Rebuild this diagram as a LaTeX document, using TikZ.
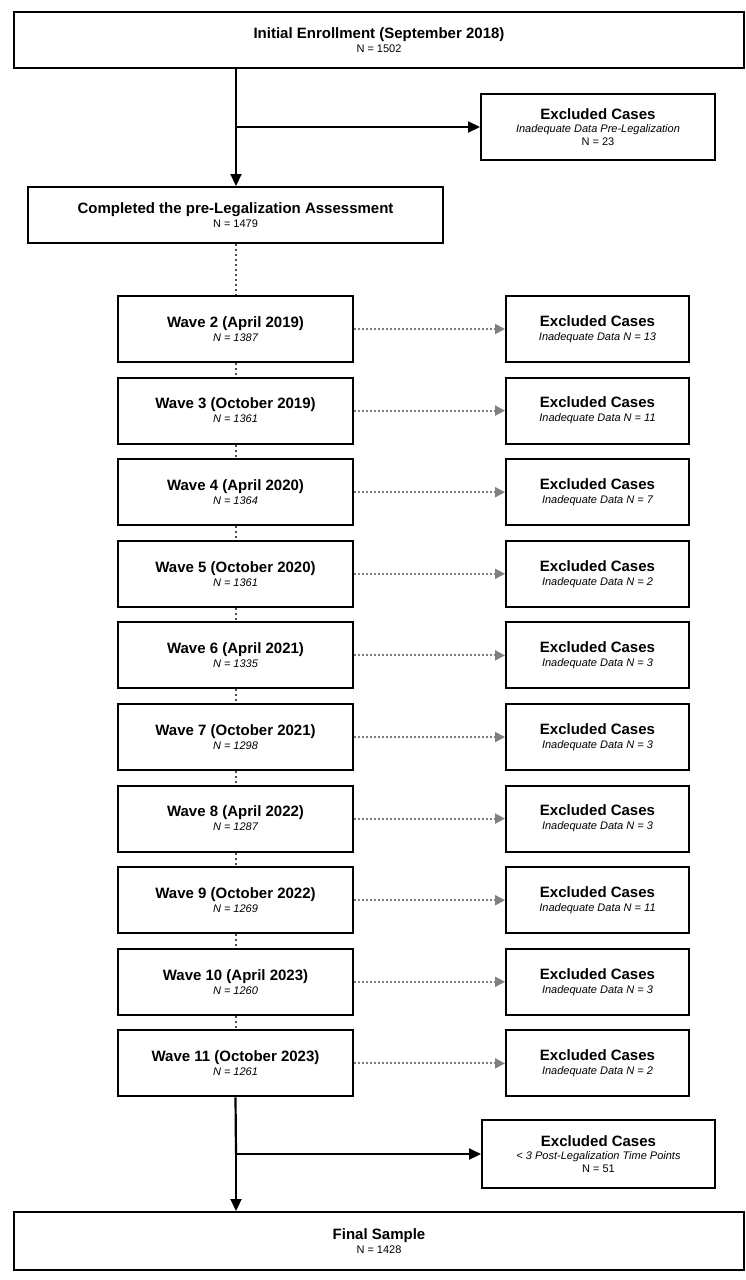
\documentclass[tikz,border=0pt]{standalone}
\usepackage{fontspec}
\setmainfont{Liberation Sans}
\usetikzlibrary{arrows.meta}
\newcommand{\ttlf}{\bfseries\fontsize{15}{17}\selectfont}
\newcommand{\subf}{\fontsize{11}{13}\selectfont}
\begin{document}
\begin{tikzpicture}[x=1pt,y=-1pt,
  box/.style={draw,line width=2pt,fill=white,inner sep=0pt,align=center},
  solidarr/.style={line width=2.2pt,-{Triangle[length=12pt,width=11pt]}},
  dotarr/.style={gray,line width=2pt,dash pattern=on 2pt off 2pt,-{Triangle[length=10pt,width=10pt]}},
  dotline/.style={gray!60!black,line width=2pt,dash pattern=on 2pt off 3pt}]
\useasboundingbox (0,0) rectangle (746,1280);
\newcommand{\mybox}[6]{%
  \node[box,minimum width={#4-#2},minimum height={#5-#3}] (#1) at ({(#2+#4)/2},{(#3+#5)/2}) {#6};}
\mybox{init}{14}{12}{744}{68}{{\ttlf Initial Enrollment (September 2018)}\\[2pt]{\subf N = 1502}}
\mybox{ex1}{481}{94}{715}{160}{{\ttlf Excluded Cases}\\[1pt]{\subf\itshape Inadequate Data Pre-Legalization}\\[1pt]{\subf N = 23}}
\mybox{comp}{28}{187}{443}{243}{{\ttlf Completed the pre-Legalization Assessment}\\[2pt]{\subf N = 1479}}
\coordinate (j1) at (236,127);
\draw[line width=2.2pt] (init.south -| j1) -- (j1);
\draw[solidarr] (j1) -- (comp.north -| j1);
\draw[solidarr] (j1) -- (ex1.west |- j1);
\foreach \k/\t/\n/\e in {2/Wave 2 (April 2019)/1387/13,3/Wave 3 (October 2019)/1361/11,4/Wave 4 (April 2020)/1364/7,5/Wave 5 (October 2020)/1361/2,6/Wave 6 (April 2021)/1335/3,7/Wave 7 (October 2021)/1298/3,8/Wave 8 (April 2022)/1287/3,9/Wave 9 (October 2022)/1269/11,10/Wave 10 (April 2023)/1260/3,11/Wave 11 (October 2023)/1261/2}{
  \pgfmathsetmacro{\yc}{329+(\k-2)*81.6}
  \node[box,minimum width=235,minimum height=66] (w\k) at (235.5,\yc) {{\ttlf \t}\\[2pt]{\subf\itshape N = \n}};
  \node[box,minimum width=183,minimum height=66] (e\k) at (597.5,\yc) {{\ttlf Excluded Cases}\\[2pt]{\subf\itshape Inadequate Data N = \e}};
  \draw[dotarr] (w\k.east) -- (e\k.west);
}
\draw[dotline] (comp.south -| w2.north) -- (w2.north);
\foreach \a/\b in {2/3,3/4,4/5,5/6,6/7,7/8,8/9,9/10,10/11}{\draw[dotline] (w\a.south) -- (w\b.north);}
\mybox{ex2}{482}{1120}{715}{1188}{{\ttlf Excluded Cases}\\[1pt]{\subf\itshape < 3 Post-Legalization Time Points}\\[1pt]{\subf N = 51}}
\mybox{final}{14}{1212}{744}{1270}{{\ttlf Final Sample}\\[2pt]{\subf N = 1428}}
\coordinate (j2) at (236,1154);
\draw[line width=2.2pt] (w11.south) -- (j2);
\draw[solidarr] (j2) -- (final.north -| j2);
\draw[solidarr] (j2) -- (ex2.west |- j2);
\end{tikzpicture}
\end{document}
